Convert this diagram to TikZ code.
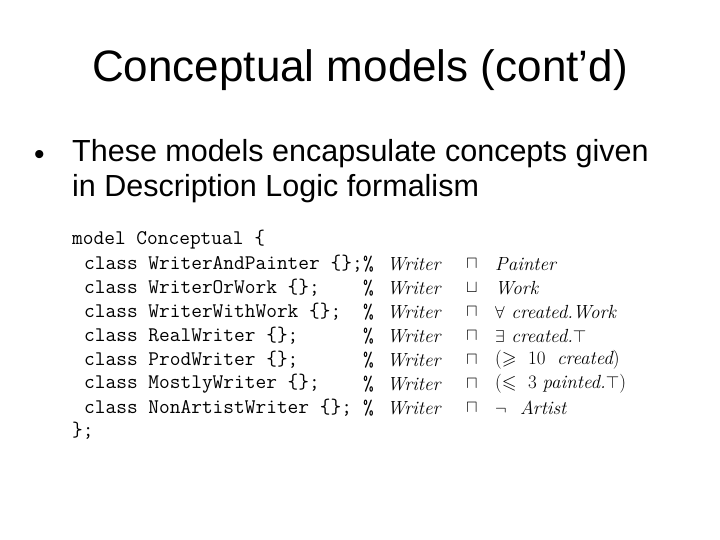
\documentclass[tikz,border=0pt]{standalone}
\usepackage{amssymb}
\usepackage{fontspec}
\setmainfont{Liberation Sans}
\newfontfamily\lmrom{Latin Modern Roman}
\begin{document}
\begin{tikzpicture}[x=1pt,y=-1pt,
  code/.style={anchor=west,inner sep=0pt,font=\fontsize{20.8}{22}\ttfamily},
  mth/.style={anchor=west,inner sep=0pt,font=\fontsize{19}{20}\lmrom\itshape}]
\useasboundingbox (0,0) rectangle (720,540);
\node[font=\fontsize{44}{50}\selectfont] (title) at (360,70) {Conceptual models (cont’d)};
\node[anchor=west,inner sep=0pt,font=\fontsize{30}{36}\selectfont] (b) at (34,157) {•};
\node[anchor=north west,inner sep=0pt,align=left,font=\fontsize{30.5}{35}\selectfont] (t) at (72,139) {These models encapsulate concepts given\\in Description Logic formalism};
\node[code] (l0) at (72,240) {model Conceptual \{};
\foreach \n/\y/\c in {1/264/WriterAndPainter \{\};,2/288/WriterOrWork \{\};,3/312/WriterWithWork \{\};,4/336/RealWriter \{\};,5/360/ProdWriter \{\};,6/384/MostlyWriter \{\};,7/408/NonArtistWriter \{\};}{
  \node[code] (c\n) at (84,\y) {class \c};
  \node[code] (p\n) at (363,\y) {\%};
  \node[mth] (w\n) at (387,\y) {Writer};
}
\foreach \n/\y in {1/264,3/312,4/336,5/360,6/384,7/408}{\node[mth] (o\n) at (466,\y) {$\sqcap$};}
\node[mth] (o2) at (466,288) {$\sqcup$};
\node[mth] (r1) at (495,264) {Painter};
\node[mth] (r2) at (495,288) {Work};
\node[mth] (r3) at (495,312) {$\forall$ created.Work};
\node[mth] (r4) at (495,336) {$\exists$ created.$\top$};
\node[mth] (r5) at (495,360) {\upshape($\geqslant$\ \ 10\ \ \itshape created\upshape)};
\node[mth] (r6) at (495,384) {\upshape($\leqslant$\ \ 3 \itshape painted.$\top$\upshape)};
\node[mth] (r7) at (495,408) {$\neg$\ \ Artist};
\node[code] (l8) at (72,431) {\};};
\end{tikzpicture}
\end{document}
